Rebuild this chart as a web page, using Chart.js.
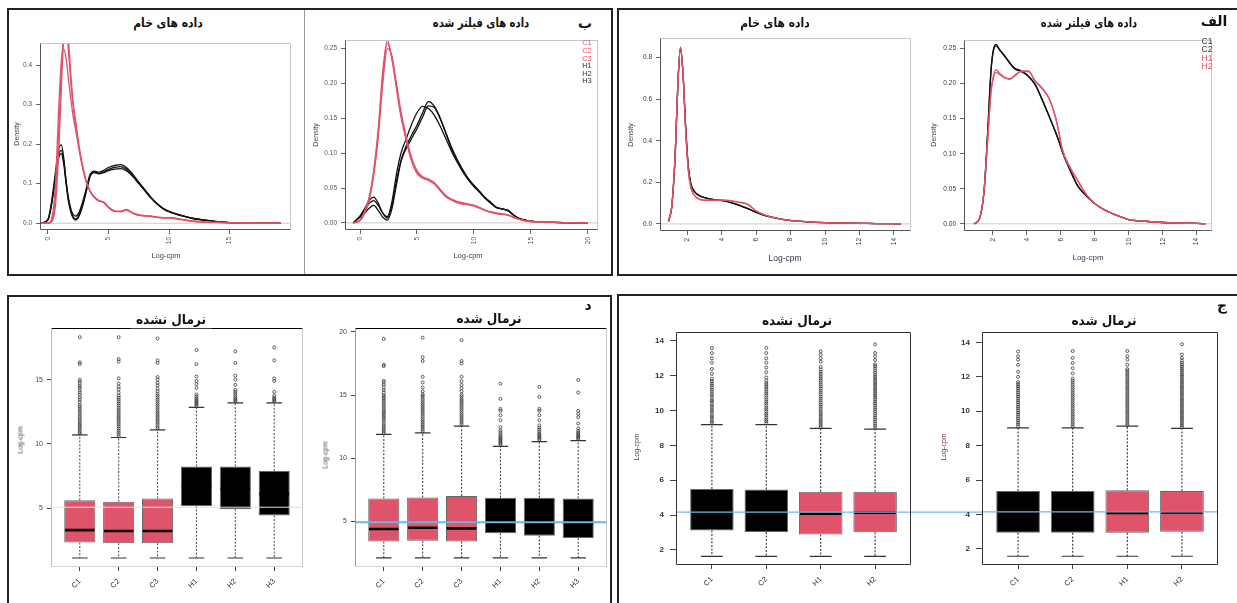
<!DOCTYPE html>
<html lang="fa">
<head>
<meta charset="utf-8">
<title>Density and box plots</title>
<script src="https://cdn.jsdelivr.net/npm/chart.js@4.4.1/dist/chart.umd.min.js"></script>
<style>
  html, body { margin:0; padding:0; background:#fff; }
  body { position:relative; width:1237px; height:603px; overflow:hidden; font-family:"Liberation Sans", Arial, sans-serif; }
  .frame { position:absolute; box-sizing:border-box; border:2px solid #222; }
  canvas { position:absolute; }
  .t { position:absolute; white-space:nowrap; transform:translate(-50%,-50%); line-height:1; }
  .r { transform:translate(-50%,-50%) rotate(-90deg); }
  .fa { font-family:"DejaVu Sans", sans-serif; font-weight:bold; direction:rtl; color:#111; }
  .title { font-size:12.5px; }
  .s87 { transform:translate(-50%,-50%) scaleX(0.86); }
  .s81 { transform:translate(-50%,-50%) scaleX(0.8); }
  .s90 { transform:translate(-50%,-50%) scaleX(0.9); }
  .btitle { font-size:13.5px; background:#fff; padding:1px 6px; }
  .plab { font-size:14px; }
  .ax { font-size:7px; color:#444; }
  .lg { font-size:7.5px; }
</style>
</head>
<body>
<div class="frame" style="left:7px;top:8px;width:606px;height:268px"></div>
<div class="frame" style="left:617px;top:8px;width:640px;height:268px"></div>
<div class="frame" style="left:7px;top:295px;width:605px;height:400px"></div>
<div class="frame" style="left:617px;top:294px;width:640px;height:400px"></div>
<div style="position:absolute;left:304px;top:10px;width:1px;height:264px;background:#999"></div>
<div id="charts"></div>

<!-- titles -->
<div class="t fa title s87" style="left:168px;top:23px">داده های خام</div>
<div class="t fa title s81" style="left:481px;top:23px">داده های فیلتر شده</div>
<div class="t fa plab" style="left:585px;top:23px">ب</div>
<div class="t fa title s87" style="left:775px;top:23px">داده های خام</div>
<div class="t fa title s81" style="left:1089px;top:23px">داده های فیلتر شده</div>
<div class="t fa plab" style="left:1214px;top:21px">الف</div>
<div class="t fa btitle s90" style="left:171px;top:320px">نرمال نشده</div>
<div class="t fa btitle s90" style="left:489px;top:319px">نرمال شده</div>
<div class="t fa plab" style="left:588px;top:305px">د</div>
<div class="t fa btitle s90" style="left:797px;top:321px">نرمال نشده</div>
<div class="t fa btitle s90" style="left:1104px;top:321px">نرمال شده</div>
<div class="t fa plab" style="left:1222px;top:305px">ج</div>

<!-- axis titles -->
<div class="t r ax" style="left:16px;top:134px">Density</div>
<div class="t r ax" style="left:315px;top:135px">Density</div>
<div class="t r ax" style="left:630px;top:135px">Density</div>
<div class="t r ax" style="left:933px;top:135px">Density</div>
<div class="t ax" style="left:166px;top:256px;font-size:7.5px">Log-cpm</div>
<div class="t ax" style="left:468px;top:256px;font-size:7.5px">Log-cpm</div>
<div class="t ax" style="left:785px;top:258px;font-size:8.5px;color:#335">Log-cpm</div>
<div class="t ax" style="left:1088px;top:258px;font-size:8px;color:#335">Log-cpm</div>
<div class="t r ax" style="left:20px;top:440px">Log-cpm</div>
<div class="t r ax" style="left:325px;top:455px">Log-cpm</div>
<div class="t r ax" style="left:636px;top:447px;color:#445">Log-cpm</div>
<div class="t r ax" style="left:943px;top:447px;color:#733">Log-cpm</div>

<!-- legends -->
<div class="t lg" style="left:587px;top:43px;color:#DF536B">C1</div>
<div class="t lg" style="left:587px;top:51px;color:#DF536B">C2</div>
<div class="t lg" style="left:587px;top:58.5px;color:#DF536B">C3</div>
<div class="t lg" style="left:587px;top:66px;color:#333">H1</div>
<div class="t lg" style="left:587px;top:73.5px;color:#333">H2</div>
<div class="t lg" style="left:587px;top:81px;color:#333">H3</div>
<div class="t lg" style="left:1207px;top:41px;color:#333;font-size:8.5px">C1</div>
<div class="t lg" style="left:1207px;top:49px;color:#333;font-size:8.5px">C2</div>
<div class="t lg" style="left:1207px;top:58px;color:#DF536B;font-size:8.5px">H1</div>
<div class="t lg" style="left:1207px;top:66px;color:#DF536B;font-size:8.5px">H2</div>

<script>
// ===================== DATA =====================
// Panel ب – density of raw data (Log-cpm)
const bRawX  = [-0.6, 0, 0.3, 0.6, 0.9, 1.1, 1.3, 1.5, 1.7, 1.9, 2.1, 2.3, 2.6, 2.9, 3.2, 3.5, 3.8, 4.2, 4.6, 5.0, 5.5, 6.0, 6.5, 7.0, 7.5, 8.0, 8.5, 9.0, 9.5, 10, 11, 12, 13, 14, 15, 16, 17, 18, 19.2];
const bRawC1 = [0, 0, 0.012, 0.09, 0.30, 0.41, 0.44, 0.415, 0.36, 0.31, 0.265, 0.233, 0.18, 0.135, 0.102, 0.08, 0.066, 0.057, 0.052, 0.04, 0.03, 0.03, 0.034, 0.026, 0.021, 0.019, 0.018, 0.015, 0.014, 0.014, 0.01, 0.005, 0.003, 0.002, 0.0012, 0.0008, 0.0005, 0.0002, 0];
const bRawC2 = [0, 0, 0.006, 0.06, 0.24, 0.39, 0.48, 0.49, 0.43, 0.35, 0.29, 0.245, 0.185, 0.135, 0.1, 0.079, 0.066, 0.056, 0.054, 0.041, 0.031, 0.029, 0.033, 0.025, 0.02, 0.018, 0.017, 0.015, 0.013, 0.013, 0.009, 0.005, 0.003, 0.002, 0.0012, 0.0008, 0.0005, 0.0002, 0];
const bRawC3 = [0, 0, 0.004, 0.04, 0.19, 0.34, 0.47, 0.52, 0.46, 0.37, 0.3, 0.255, 0.19, 0.14, 0.103, 0.081, 0.068, 0.058, 0.053, 0.04, 0.03, 0.03, 0.035, 0.025, 0.021, 0.019, 0.018, 0.016, 0.014, 0.014, 0.01, 0.005, 0.003, 0.002, 0.0012, 0.0008, 0.0005, 0.0002, 0];
const bRawH1 = [0, 0.01, 0.055, 0.125, 0.19, 0.198, 0.165, 0.105, 0.058, 0.03, 0.015, 0.011, 0.024, 0.052, 0.088, 0.122, 0.132, 0.129, 0.134, 0.141, 0.146, 0.148, 0.14, 0.124, 0.104, 0.085, 0.066, 0.05, 0.038, 0.03, 0.02, 0.012, 0.008, 0.004, 0.0018, 0.0008, 0.0003, 0.0001, 0];
const bRawH2 = [0, 0.009, 0.05, 0.115, 0.175, 0.184, 0.158, 0.105, 0.062, 0.035, 0.021, 0.018, 0.03, 0.058, 0.092, 0.125, 0.13, 0.126, 0.13, 0.136, 0.141, 0.143, 0.136, 0.121, 0.102, 0.083, 0.064, 0.049, 0.037, 0.029, 0.019, 0.012, 0.008, 0.004, 0.0018, 0.0008, 0.0003, 0.0001, 0];
const bRawH3 = [0, 0.008, 0.048, 0.11, 0.168, 0.176, 0.15, 0.098, 0.054, 0.027, 0.012, 0.008, 0.02, 0.048, 0.085, 0.12, 0.128, 0.125, 0.128, 0.133, 0.137, 0.138, 0.132, 0.118, 0.1, 0.082, 0.064, 0.049, 0.037, 0.029, 0.019, 0.012, 0.007, 0.004, 0.0017, 0.0008, 0.0003, 0.0001, 0];

// Panel ب – density of filtered data
const bFiltX  = [-0.6, 0, 0.4, 0.8, 1.2, 1.6, 2.0, 2.4, 2.8, 3.2, 3.6, 4.0, 4.5, 5.0, 5.5, 6.0, 6.5, 7.0, 7.5, 8.0, 8.5, 9.0, 9.5, 10, 10.5, 11, 11.5, 12, 12.5, 13, 13.5, 14, 14.5, 15, 16, 17, 18, 19, 20];
const bFiltC1 = [0, 0.004, 0.015, 0.035, 0.072, 0.13, 0.21, 0.258, 0.235, 0.195, 0.155, 0.125, 0.092, 0.073, 0.065, 0.062, 0.057, 0.048, 0.039, 0.034, 0.03, 0.028, 0.027, 0.025, 0.022, 0.018, 0.015, 0.014, 0.013, 0.011, 0.008, 0.005, 0.003, 0.002, 0.0012, 0.0007, 0.0004, 0.0002, 0];
const bFiltC2 = [0, 0.003, 0.013, 0.032, 0.068, 0.123, 0.2, 0.25, 0.24, 0.2, 0.16, 0.128, 0.095, 0.075, 0.066, 0.063, 0.058, 0.049, 0.04, 0.034, 0.031, 0.029, 0.027, 0.025, 0.022, 0.018, 0.016, 0.014, 0.013, 0.011, 0.008, 0.005, 0.003, 0.002, 0.0012, 0.0007, 0.0004, 0.0002, 0];
const bFiltC3 = [0, 0.004, 0.016, 0.037, 0.075, 0.135, 0.218, 0.262, 0.236, 0.193, 0.152, 0.122, 0.09, 0.071, 0.064, 0.061, 0.056, 0.047, 0.038, 0.033, 0.029, 0.027, 0.026, 0.024, 0.021, 0.018, 0.015, 0.013, 0.012, 0.011, 0.008, 0.005, 0.003, 0.002, 0.0012, 0.0007, 0.0004, 0.0002, 0];
const bFiltH1 = [0, 0.01, 0.02, 0.032, 0.037, 0.028, 0.014, 0.007, 0.025, 0.06, 0.09, 0.108, 0.125, 0.14, 0.158, 0.174, 0.168, 0.152, 0.13, 0.108, 0.091, 0.076, 0.063, 0.053, 0.045, 0.036, 0.029, 0.022, 0.02, 0.018, 0.011, 0.006, 0.004, 0.0025, 0.0012, 0.0006, 0.0003, 0.0001, 0];
const bFiltH2 = [0, 0.009, 0.018, 0.028, 0.032, 0.025, 0.014, 0.009, 0.03, 0.07, 0.1, 0.118, 0.14, 0.158, 0.167, 0.164, 0.155, 0.14, 0.122, 0.104, 0.088, 0.074, 0.062, 0.052, 0.044, 0.035, 0.028, 0.022, 0.02, 0.017, 0.011, 0.006, 0.004, 0.0025, 0.0012, 0.0006, 0.0003, 0.0001, 0];
const bFiltH3 = [0, 0.008, 0.014, 0.021, 0.025, 0.018, 0.008, 0.004, 0.02, 0.055, 0.088, 0.105, 0.12, 0.135, 0.152, 0.168, 0.166, 0.151, 0.131, 0.11, 0.092, 0.077, 0.064, 0.054, 0.045, 0.036, 0.029, 0.022, 0.02, 0.018, 0.011, 0.006, 0.004, 0.0025, 0.0012, 0.0006, 0.0003, 0.0001, 0];

// Panel الف – density of raw data
const aRawX  = [0.9, 1.1, 1.3, 1.45, 1.6, 1.75, 1.9, 2.05, 2.2, 2.4, 2.7, 3.0, 3.5, 4.0, 4.5, 5.0, 5.5, 6.0, 6.5, 7.0, 7.5, 8.0, 9, 10, 11, 12, 13, 14, 14.4];
const aRawC1 = [0.012, 0.09, 0.35, 0.68, 0.85, 0.72, 0.47, 0.28, 0.195, 0.158, 0.137, 0.127, 0.118, 0.113, 0.104, 0.09, 0.075, 0.056, 0.041, 0.031, 0.023, 0.017, 0.01, 0.006, 0.004, 0.003, 0.0015, 0.001, 0];
const aRawC2 = [0.012, 0.088, 0.345, 0.675, 0.845, 0.715, 0.465, 0.277, 0.192, 0.156, 0.135, 0.126, 0.117, 0.112, 0.103, 0.089, 0.074, 0.055, 0.04, 0.03, 0.022, 0.016, 0.01, 0.006, 0.004, 0.003, 0.0015, 0.001, 0];
const aRawH1 = [0.012, 0.09, 0.35, 0.68, 0.85, 0.72, 0.45, 0.26, 0.175, 0.138, 0.118, 0.113, 0.113, 0.115, 0.111, 0.104, 0.094, 0.062, 0.043, 0.031, 0.022, 0.016, 0.01, 0.006, 0.004, 0.003, 0.0015, 0.0008, 0];
const aRawH2 = [0.012, 0.089, 0.348, 0.678, 0.848, 0.718, 0.452, 0.262, 0.177, 0.14, 0.119, 0.114, 0.114, 0.116, 0.112, 0.105, 0.095, 0.063, 0.043, 0.031, 0.022, 0.016, 0.01, 0.006, 0.004, 0.003, 0.0015, 0.0008, 0];

// Panel الف – density of filtered data
const aFiltX  = [0.9, 1.2, 1.5, 1.7, 1.9, 2.05, 2.2, 2.4, 2.7, 3.0, 3.3, 3.7, 4.1, 4.5, 4.9, 5.3, 5.7, 5.9, 6.1, 6.5, 7.0, 7.5, 8.0, 8.5, 9.0, 10, 11, 12, 13, 14, 14.5];
const aFiltC1 = [0, 0.006, 0.05, 0.13, 0.22, 0.25, 0.256, 0.249, 0.24, 0.23, 0.222, 0.218, 0.211, 0.199, 0.178, 0.155, 0.131, 0.118, 0.103, 0.08, 0.054, 0.04, 0.029, 0.021, 0.015, 0.006, 0.0036, 0.0018, 0.001, 0.0005, 0];
const aFiltC2 = [0, 0.006, 0.049, 0.128, 0.218, 0.248, 0.254, 0.248, 0.239, 0.229, 0.221, 0.217, 0.21, 0.198, 0.177, 0.154, 0.13, 0.117, 0.102, 0.079, 0.054, 0.04, 0.029, 0.021, 0.015, 0.006, 0.0036, 0.0018, 0.001, 0.0005, 0];
const aFiltH1 = [0, 0.006, 0.05, 0.12, 0.19, 0.212, 0.22, 0.215, 0.209, 0.207, 0.212, 0.218, 0.218, 0.204, 0.194, 0.18, 0.152, 0.13, 0.106, 0.083, 0.062, 0.042, 0.029, 0.021, 0.015, 0.006, 0.0036, 0.0018, 0.001, 0.0005, 0];
const aFiltH2 = [0, 0.006, 0.049, 0.118, 0.187, 0.209, 0.216, 0.213, 0.208, 0.206, 0.211, 0.217, 0.217, 0.203, 0.193, 0.179, 0.151, 0.129, 0.105, 0.082, 0.061, 0.042, 0.029, 0.021, 0.015, 0.006, 0.0036, 0.0018, 0.001, 0.0005, 0];

// Tick labels of the density plots
const bRawXTicks = [0, 5, 10, 15];
const bRawYTicks = [0, 0.1, 0.2, 0.3, 0.4];
const bFiltXTicks = [0, 5, 10, 15, 20];
const bFiltYTicks = [0, 0.05, 0.1, 0.15, 0.2, 0.25];
const aXTicks = [2, 4, 6, 8, 10, 12, 14];
const aRawYTicks = [0, 0.2, 0.4, 0.6, 0.8];
const aFiltYTicks = [0, 0.05, 0.1, 0.15, 0.2, 0.25];

// Panel د – boxplots (6 samples)
const dLabels = ['C1', 'C2', 'C3', 'H1', 'H2', 'H3'];
const dRawQ1  = [2.34, 2.27, 2.27, 5.18, 4.92, 4.44];
const dRawMed = [3.30, 3.23, 3.23, 6.7, 6.5, 6.1];
const dRawQ3  = [5.63, 5.50, 5.76, 8.24, 8.24, 7.90];
const dRawLo  = [1.13, 1.13, 1.13, 1.13, 1.13, 1.13];
const dRawHi  = [10.7, 10.5, 11.1, 12.85, 13.2, 13.2];
const dRawOut = [
  [10.8, 10.93, 11.1, 11.24, 11.4, 11.53, 11.7, 11.84, 12.0, 12.13, 12.3, 12.44, 12.6, 12.73, 12.9, 13.04, 13.25, 13.45, 13.6, 13.8, 14.0, 14.15, 14.35, 14.5, 14.7, 14.85, 15.0, 16.2, 16.35, 18.3],
  [10.6, 10.74, 10.9, 11.03, 11.2, 11.34, 11.5, 11.63, 11.8, 11.94, 12.1, 12.23, 12.4, 12.54, 12.7, 12.83, 13.0, 13.14, 13.3, 13.44, 13.6, 13.75, 14.0, 14.25, 14.45, 14.7, 15.1, 16.4, 16.6, 18.3],
  [11.2, 11.34, 11.5, 11.64, 11.8, 11.93, 12.1, 12.24, 12.4, 12.53, 12.7, 12.84, 13.0, 13.14, 13.3, 13.44, 13.6, 13.75, 13.9, 14.1, 14.3, 14.55, 14.75, 15.0, 15.2, 16.3, 16.5, 18.2],
  [12.95, 13.05, 13.15, 13.25, 13.35, 13.45, 13.55, 13.7, 13.85, 14.35, 14.65, 14.9, 15.25, 16.2, 17.3],
  [13.3, 13.4, 13.5, 13.6, 13.75, 13.9, 14.05, 14.2, 14.6, 15.0, 15.3, 16.3, 17.2],
  [13.3, 13.4, 13.5, 13.6, 13.75, 14.05, 14.9, 15.1, 16.5, 17.5]
];
const dNormQ1  = [3.40, 3.45, 3.40, 4.05, 3.84, 3.66];
const dNormMed = [4.38, 4.48, 4.43, 4.92, 4.9, 4.85];
const dNormQ3  = [6.80, 6.88, 7.00, 6.85, 6.85, 6.80];
const dNormLo  = [2.09, 2.09, 2.09, 2.09, 2.09, 2.09];
const dNormHi  = [11.88, 12.0, 12.53, 10.93, 11.31, 11.39];
const dNormOut = [
  [12.0, 12.14, 12.3, 12.45, 12.6, 12.74, 12.9, 13.05, 13.2, 13.34, 13.5, 13.65, 13.8, 13.94, 14.1, 14.25, 14.4, 14.54, 14.7, 14.85, 15.0, 15.2, 15.4, 15.6, 15.8, 16.0, 16.13, 17.3, 17.4, 19.45],
  [12.1, 12.25, 12.4, 12.54, 12.7, 12.85, 13.0, 13.14, 13.3, 13.45, 13.6, 13.74, 13.9, 14.05, 14.2, 14.34, 14.5, 14.65, 14.8, 14.94, 15.05, 15.3, 15.6, 16.0, 16.45, 17.7, 18.0, 19.55],
  [12.65, 12.8, 12.94, 13.1, 13.25, 13.4, 13.54, 13.7, 13.85, 14.0, 14.14, 14.3, 14.45, 14.6, 14.74, 14.9, 15.05, 15.3, 15.55, 15.8, 16.1, 16.45, 17.5, 17.7, 19.35],
  [11.05, 11.15, 11.25, 11.35, 11.45, 11.55, 11.65, 11.75, 11.9, 12.05, 12.2, 12.45, 13.0, 13.4, 13.75, 13.9, 14.7, 15.9],
  [11.45, 11.55, 11.65, 11.75, 11.85, 11.95, 12.1, 12.25, 12.4, 12.6, 13.0, 13.4, 13.75, 13.9, 14.85, 15.65],
  [11.5, 11.6, 11.7, 11.8, 11.9, 12.0, 12.15, 12.35, 12.75, 13.25, 13.5, 13.75, 15.2, 16.2]
];
const dRawYTicks  = [5, 10, 15];
const dNormYTicks = [5, 10, 15, 20];

// Panel ج – boxplots (4 samples)
const cLabels = ['C1', 'C2', 'H1', 'H2'];
const cRawQ1  = [3.11, 3.03, 2.88, 3.01];
const cRawMed = [4.15, 4.13, 4.08, 4.14];
const cRawQ3  = [5.50, 5.47, 5.34, 5.34];
const cRawLo  = [1.63, 1.63, 1.63, 1.63];
const cRawHi  = [9.19, 9.19, 8.97, 8.93];
const cRawOut = [
  [9.28, 9.37, 9.5, 9.61, 9.7, 9.83, 9.95, 10.04, 10.18, 10.27, 10.4, 10.52, 10.6, 10.75, 10.86, 10.97, 11.1, 11.2, 11.33, 11.45, 11.56, 11.7, 11.82, 12.1, 12.38, 12.75, 13.0, 13.3, 13.58],
  [9.27, 9.39, 9.48, 9.6, 9.72, 9.81, 9.94, 10.06, 10.15, 10.29, 10.41, 10.5, 10.63, 10.74, 10.88, 10.99, 11.1, 11.23, 11.35, 11.47, 11.58, 11.72, 11.9, 12.2, 12.47, 12.75, 13.0, 13.3, 13.6],
  [9.05, 9.17, 9.28, 9.4, 9.51, 9.63, 9.75, 9.86, 9.98, 10.1, 10.22, 10.33, 10.45, 10.57, 10.68, 10.8, 10.92, 11.04, 11.15, 11.27, 11.39, 11.5, 11.62, 11.74, 11.86, 11.97, 12.1, 12.22, 12.35, 12.5, 12.8, 13.0, 13.2, 13.4],
  [9.02, 9.13, 9.25, 9.37, 9.48, 9.6, 9.71, 9.83, 9.95, 10.07, 10.18, 10.3, 10.42, 10.53, 10.65, 10.77, 10.88, 11.0, 11.12, 11.23, 11.35, 11.47, 11.58, 11.7, 11.82, 11.93, 12.05, 12.17, 12.3, 12.42, 12.55, 12.65, 12.9, 13.1, 13.3, 13.8]
];
const cNormQ1  = [2.93, 2.93, 2.93, 2.99];
const cNormMed = [4.15, 4.15, 4.09, 4.11];
const cNormQ3  = [5.36, 5.36, 5.41, 5.36];
const cNormLo  = [1.57, 1.57, 1.57, 1.57];
const cNormHi  = [9.03, 9.03, 9.13, 9.0];
const cNormOut = [
  [9.12, 9.24, 9.35, 9.47, 9.58, 9.7, 9.82, 9.93, 10.05, 10.17, 10.28, 10.4, 10.52, 10.63, 10.75, 10.87, 10.98, 11.1, 11.22, 11.34, 11.46, 11.58, 11.7, 12.0, 12.3, 12.7, 13.0, 13.2, 13.47],
  [9.1, 9.22, 9.33, 9.45, 9.57, 9.68, 9.8, 9.92, 10.03, 10.15, 10.27, 10.38, 10.5, 10.62, 10.73, 10.85, 10.97, 11.08, 11.2, 11.32, 11.43, 11.55, 11.67, 11.78, 11.9, 12.2, 12.5, 12.8, 13.1, 13.5],
  [9.2, 9.31, 9.43, 9.55, 9.66, 9.78, 9.9, 10.01, 10.13, 10.25, 10.36, 10.48, 10.6, 10.71, 10.83, 10.95, 11.06, 11.18, 11.3, 11.41, 11.53, 11.65, 11.76, 11.88, 12.0, 12.11, 12.23, 12.35, 12.45, 12.7, 13.0, 13.2, 13.5],
  [9.08, 9.2, 9.31, 9.43, 9.55, 9.66, 9.78, 9.9, 10.01, 10.13, 10.25, 10.36, 10.48, 10.6, 10.71, 10.83, 10.95, 11.06, 11.18, 11.3, 11.41, 11.53, 11.65, 11.76, 11.88, 12.0, 12.11, 12.23, 12.35, 12.46, 12.58, 12.7, 12.82, 12.95, 13.1, 13.3, 13.9]
];
const cYTicks = [2, 4, 6, 8, 10, 12, 14];

// horizontal reference lines (Log-cpm)
const dRawRef = 5.08, dNormRef = 4.92, cRawRef = 4.17, cNormRef = 4.15;

// ===================== DRAWING =====================
const RED = '#DF536B';
const FONT = '"Liberation Sans", Arial, sans-serif';

Chart.register({
  id: 'frame',
  afterDatasetsDraw(chart, args, o) {
    const a = chart.chartArea, ctx = chart.ctx;
    const L = Math.round(a.left) + 0.5, R = Math.round(a.right) - 0.5, T = Math.round(a.top) + 0.5, B = Math.round(a.bottom) - 0.5;
    const sides = { top: [L, T, R, T], right: [R, T, R, B], bottom: [L, B, R, B], left: [L, T, L, B] };
    ctx.save();
    ctx.lineWidth = 1;
    for (const k of ['top', 'right', 'bottom', 'left']) {
      if (!o || !o[k]) continue;
      const s = sides[k];
      ctx.strokeStyle = o[k];
      ctx.beginPath(); ctx.moveTo(s[0], s[1]); ctx.lineTo(s[2], s[3]); ctx.stroke();
    }
    ctx.restore();
  }
});

function place(rect, m) {
  const c = document.createElement('canvas');
  const w = m.wy + (rect.R - rect.L) + m.pr, h = m.pt + (rect.B - rect.T) + m.hx;
  c.width = w; c.height = h;
  c.style.left = (rect.L - m.wy) + 'px';
  c.style.top = (rect.T - m.pt) + 'px';
  c.style.width = w + 'px'; c.style.height = h + 'px';
  document.getElementById('charts').appendChild(c);
  return c;
}

function densityChart(rect, xs, series, xr, yr, xt, yt, dec, tc) {
  const m = { wy: rect.wy, hx: 30, pt: 2, pr: 2 };
  const cv = place(rect, m);
  const ds = series.map(s => ({
    type: 'line', data: xs.map((x, i) => ({ x, y: s[0][i] })),
    borderColor: s[1], borderWidth: 1.3, pointRadius: 0, cubicInterpolationMode: 'monotone', fill: false
  }));
  ds.push({ type: 'line', data: [{ x: xr[0], y: 0 }, { x: xr[1], y: 0 }], borderColor: '#cbcbcb', borderWidth: 1, pointRadius: 0 });
  const tickFont = { family: FONT, size: 6.5 };
  new Chart(cv, {
    type: 'line',
    data: { datasets: ds },
    options: {
      responsive: false, animation: false, devicePixelRatio: 1, events: [],
      layout: { autoPadding: false, padding: { top: m.pt, right: m.pr, left: 0, bottom: 0 } },
      plugins: { legend: { display: false }, tooltip: { enabled: false },
        frame: { top: '#c6c6c6', right: '#c6c6c6', bottom: '#555', left: '#555' } },
      scales: {
        x: { type: 'linear', min: xr[0], max: xr[1], offset: false,
          afterBuildTicks: a => { a.ticks = xt.map(v => ({ value: v })); },
          afterFit: a => { a.height = m.hx; },
          ticks: { autoSkip: false, minRotation: 90, maxRotation: 90, padding: 3, color: tc, font: tickFont, callback: v => String(v) },
          grid: { display: true, drawOnChartArea: false, drawTicks: true, tickLength: 4, color: '#666', offset: false },
          border: { display: false } },
        y: { type: 'linear', min: yr[0], max: yr[1],
          afterBuildTicks: a => { a.ticks = yt.map(v => ({ value: v })); },
          afterFit: a => { a.width = m.wy; },
          ticks: { autoSkip: false, padding: 4, color: tc, font: tickFont, callback: v => Number(v).toFixed(dec) },
          grid: { display: true, drawOnChartArea: false, drawTicks: true, tickLength: 4, color: '#666' },
          border: { display: false } }
      }
    }
  });
}

function boxChart(rect, labels, q1, med, q3, lo, hi, outs, yr, yt, ref, st) {
  const n = labels.length, ext = 0.04 * n;
  const xr = [0.5 - ext, n + 0.5 + ext];
  const m = { wy: rect.wy, hx: 603 - rect.B, pt: 2, pr: rect.pr || 2 };
  const cv = place(rect, m);
  const seg = f => labels.flatMap((_, i) => [...f(i), { x: i + 1, y: null }]);
  const refDs = { type: 'line', data: [{ x: xr[0], y: ref.y }, { x: ref.xEnd || xr[1], y: ref.y }],
    borderColor: ref.color, borderWidth: ref.w, pointRadius: 0 };
  if (ref.noclip) refDs.clip = false;
  const medDs = { type: 'line', data: seg(i => [{ x: i + 0.62, y: med[i] }, { x: i + 1.38, y: med[i] }]),
    borderColor: '#000', borderWidth: 2.6, pointRadius: 0, spanGaps: false };
  const capDs = { type: 'line', data: seg(i => [{ x: i + 0.8, y: hi[i] }, { x: i + 1.2, y: hi[i] }, { x: i + 1, y: null }, { x: i + 0.8, y: lo[i] }, { x: i + 1.2, y: lo[i] }]),
    borderColor: '#333', borderWidth: 1.2, pointRadius: 0, spanGaps: false };
  const outDs = { type: 'scatter', data: labels.flatMap((_, i) => outs[i].map(v => ({ x: i + 1, y: v }))),
    pointRadius: 1.5, pointBorderWidth: 0.8, pointBorderColor: '#3a3a3a', pointBackgroundColor: 'rgba(0,0,0,0)', pointStyle: 'circle' };
  const boxDs = { type: 'bar', data: labels.map((_, i) => ({ x: i + 1, y: [q1[i], q3[i]] })),
    backgroundColor: labels.map(l => st.fill[l[0]]), borderColor: '#666', borderWidth: 1, borderSkipped: false,
    barPercentage: 0.8, categoryPercentage: 1 };
  const whiskDs = { type: 'line', data: seg(i => [{ x: i + 1, y: q3[i] }, { x: i + 1, y: hi[i] }, { x: i + 1, y: null }, { x: i + 1, y: q1[i] }, { x: i + 1, y: lo[i] }]),
    borderColor: st.wc, borderWidth: 1.1, borderDash: [2, 1.6], pointRadius: 0, spanGaps: false };
  const yFont = { family: FONT, size: st.ys, weight: st.yw };
  new Chart(cv, {
    type: 'bar',
    data: { datasets: [refDs, medDs, capDs, outDs, boxDs, whiskDs] },
    options: {
      responsive: false, animation: false, devicePixelRatio: 1, events: [],
      layout: { autoPadding: false, padding: { top: m.pt, right: m.pr, left: 0, bottom: 0 } },
      plugins: { legend: { display: false }, tooltip: { enabled: false }, frame: st.frame },
      scales: {
        x: { type: 'linear', min: xr[0], max: xr[1], offset: false,
          afterBuildTicks: a => { a.ticks = labels.map((_, i) => ({ value: i + 1 })); },
          afterFit: a => { a.height = m.hx; },
          ticks: { autoSkip: false, minRotation: 45, maxRotation: 45, padding: 6, color: '#333', font: { family: FONT, size: 7.5 },
            callback: v => labels[Math.round(v) - 1] },
          grid: { display: true, drawOnChartArea: false, drawTicks: true, tickLength: 4, color: '#444', offset: false },
          border: { display: false } },
        y: { type: 'linear', min: yr[0], max: yr[1], beginAtZero: false,
          afterBuildTicks: a => { a.ticks = yt.map(v => ({ value: v })); },
          afterFit: a => { a.width = m.wy; },
          ticks: { autoSkip: false, padding: st.tp, color: st.yc, font: yFont, callback: v => String(v) },
          grid: { display: true, drawOnChartArea: false, drawTicks: true, tickLength: st.tl, color: '#444' },
          border: { display: false } }
      }
    }
  });
}

// ---- density panels ----
densityChart({ L: 40, T: 37, R: 291, B: 230, wy: 28 }, bRawX,
  [[bRawC1, RED], [bRawC2, RED], [bRawC3, RED], [bRawH1, '#111'], [bRawH2, '#111'], [bRawH3, '#111']],
  [-0.66, 20.07], [-0.0171, 0.456], bRawXTicks, bRawYTicks, 1, '#555');
densityChart({ L: 345, T: 34, R: 598, B: 230, wy: 30 }, bFiltX,
  [[bFiltC1, RED], [bFiltC2, RED], [bFiltC3, RED], [bFiltH1, '#111'], [bFiltH2, '#111'], [bFiltH3, '#111']],
  [-1.32, 20.9], [-0.0102, 0.2625], bFiltXTicks, bFiltYTicks, 2, '#555');
densityChart({ L: 660, T: 32, R: 911, B: 231, wy: 28 }, aRawX,
  [[aRawH1, RED], [aRawH2, RED], [aRawC1, '#111'], [aRawC2, '#111']],
  [0.41, 14.99], [-0.034, 0.895], aXTicks, aRawYTicks, 1, '#334');
densityChart({ L: 964, T: 34, R: 1212, B: 231, wy: 30 }, aFiltX,
  [[aFiltH1, RED], [aFiltH2, RED], [aFiltC1, '#111'], [aFiltC2, '#111']],
  [0.31, 14.9], [-0.0103, 0.2624], aXTicks, aFiltYTicks, 2, '#334');

// ---- box panels ----
const dStyleRaw = { fill: { C: RED, H: '#000' }, wc: '#555', ys: 7, yw: 'normal', yc: '#444', tp: 4, tl: 4,
  frame: { top: '#000', right: '#c8c8c8', bottom: '#cfd8e0', left: '#bbb' } };
const dStyleNorm = { fill: { C: RED, H: '#000' }, wc: '#444', ys: 7, yw: 'normal', yc: '#444', tp: 4, tl: 4,
  frame: { top: '#000', right: '#c8c8c8', bottom: '#cfd8e0', left: '#999' } };
const cStyle = { fill: { C: '#000', H: RED }, wc: '#333', ys: 8, yw: 'bold', yc: '#334', tp: 6, tl: 6,
  frame: { top: '#333', right: '#333', bottom: '#333', left: '#333' } };

boxChart({ L: 51, T: 322, R: 303, B: 567, wy: 36 }, dLabels, dRawQ1, dRawMed, dRawQ3, dRawLo, dRawHi, dRawOut,
  [0.43, 19.0], dRawYTicks, { y: dRawRef, color: '#d3e4f0', w: 1 }, dStyleRaw);
boxChart({ L: 355, T: 322, R: 607, B: 567, wy: 36 }, dLabels, dNormQ1, dNormMed, dNormQ3, dNormLo, dNormHi, dNormOut,
  [1.37, 20.3], dNormYTicks, { y: dNormRef, color: '#6cb4e4', w: 2 }, dStyleNorm);
boxChart({ L: 676, T: 323, R: 911, B: 565, wy: 40, pr: 71 }, cLabels, cRawQ1, cRawMed, cRawQ3, cRawLo, cRawHi, cRawOut,
  [1.13, 14.52], cYTicks, { y: cRawRef, color: '#72b8e6', w: 1.3, xEnd: 6.0, noclip: true }, cStyle);
boxChart({ L: 982, T: 323, R: 1218, B: 565, wy: 40 }, cLabels, cNormQ1, cNormMed, cNormQ3, cNormLo, cNormHi, cNormOut,
  [1.06, 14.62], cYTicks, { y: cNormRef, color: '#72b8e6', w: 1.3 }, cStyle);
</script>
</body>
</html>
